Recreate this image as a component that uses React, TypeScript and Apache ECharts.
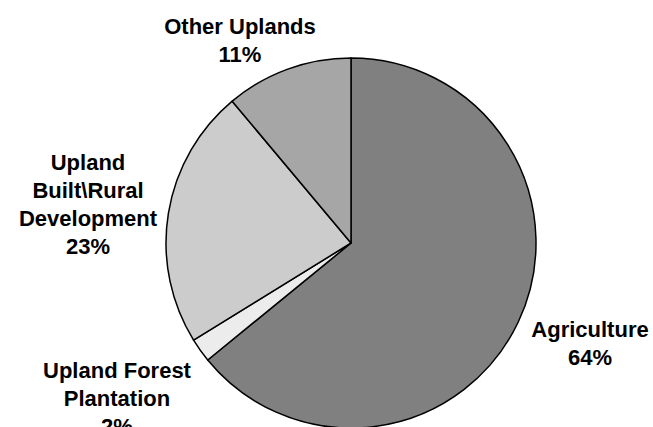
import React, { useEffect, useRef } from "react";
import * as echarts from "echarts";

const categories = [
  "Agriculture",
  "Upland Forest\nPlantation",
  "Upland\nBuilt\\Rural\nDevelopment",
  "Other Uplands",
];
const values = [64.1, 2.1, 22.7, 11.1];
const colors = ["#808080", "#ececec", "#cccccc", "#a6a6a6"];
const labelPositions: [number, number][] = [
  [590, 343],
  [117, 398],
  [88, 204],
  [240, 40],
];

export default function App() {
  const ref = useRef<HTMLDivElement>(null);
  useEffect(() => {
    if (!ref.current) return;
    const chart = echarts.init(ref.current, null, { renderer: "svg" });
    chart.setOption({
      animation: false,
      backgroundColor: "#ffffff",
      series: [
        {
          type: "pie",
          center: [351, 243],
          radius: 185,
          startAngle: 90,
          clockwise: true,
          avoidLabelOverlap: false,
          data: categories.map((name, i) => ({
            name,
            value: values[i],
            itemStyle: { color: colors[i] },
          })),
          itemStyle: { borderColor: "#000000", borderWidth: 1.5 },
          label: {
            show: true,
            formatter: (p: any) => `${p.name}\n${Math.round(p.percent)}%`,
            fontFamily: "Liberation Sans, Arial, sans-serif",
            fontWeight: "bold",
            fontSize: 22,
            lineHeight: 28,
            color: "#000000",
            align: "center",
          },
          labelLine: { show: false },
          labelLayout: (params: any) => {
            const pos = labelPositions[params.dataIndex];
            return { x: pos[0], y: pos[1], align: "center", verticalAlign: "middle" };
          },
          emphasis: { disabled: true },
        },
      ],
    });
    return () => chart.dispose();
  }, []);
  return (
    <div
      ref={ref}
      style={{ position: "fixed", left: 0, top: 0, width: 653, height: 427 }}
    />
  );
}
